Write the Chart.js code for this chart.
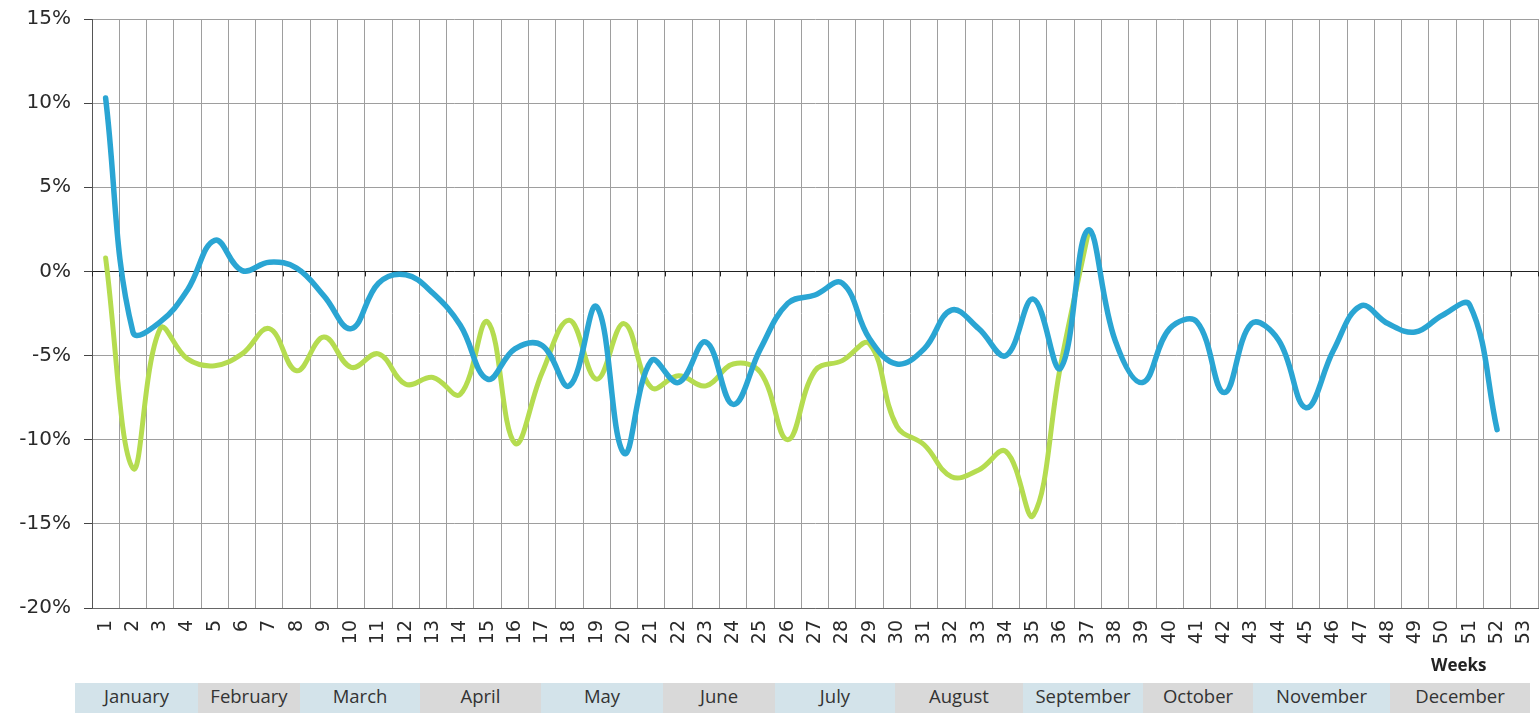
<!DOCTYPE html>
<html>
<head>
<meta charset="utf-8">
<title>Weekly change</title>
<script src="https://cdn.jsdelivr.net/npm/chart.js@4.4.1/dist/chart.umd.min.js"></script>
<style>
  html, body { margin: 0; padding: 0; background: #fff; }
  #wrap { position: relative; width: 1540px; height: 713px; overflow: hidden; }
  #chartBox { position: absolute; left: 0; top: 0; width: 1540px; height: 713px; }
  #weeksLabel {
    position: absolute; left: 1431px; top: 653px;
    font: bold 17px "Open Sans", sans-serif; color: #222;
  }
  #months {
    position: absolute; left: 75px; top: 683px; height: 30px;
    display: flex;
  }
  #months div {
    height: 30px; line-height: 33px; text-align: center;
    font: 18.5px "Open Sans", sans-serif; color: #333;
  }
</style>
</head>
<body>
<div id="wrap">
  <div id="chartBox"><canvas id="trendCanvas"></canvas></div>
  <div id="weeksLabel">Weeks</div>
  <div id="months"></div>
</div>
<script>
/* data */
const weeks = ['1','2','3','4','5','6','7','8','9','10','11','12','13','14','15','16','17','18',
  '19','20','21','22','23','24','25','26','27','28','29','30','31','32','33','34','35','36',
  '37','38','39','40','41','42','43','44','45','46','47','48','49','50','51','52','53'];

const blueVals = [10.3, -3.6, -3.0, -1.1, 1.85, 0.05, 0.55, 0.2, -1.45, -3.4,
  -0.7, -0.2, -1.3, -3.2, -6.4, -4.6, -4.4, -6.8, -2.1, -10.8,
  -5.3, -6.6, -4.2, -7.9, -4.6, -1.9, -1.4, -0.7, -4.0, -5.5,
  -4.6, -2.3, -3.4, -5.0, -1.65, -5.75, 2.45, -4.1, -6.6, -3.4,
  -3.0, -7.2, -3.1, -4.1, -8.1, -4.7, -2.05, -3.1, -3.6, -2.6,
  -2.0, -9.4];

const greenVals = [0.8, -11.7, -3.4, -5.2, -5.6, -4.9, -3.4, -5.9, -3.9, -5.7,
  -4.9, -6.7, -6.3, -7.3, -3.0, -10.2, -6.0, -2.9, -6.4, -3.1,
  -6.9, -6.2, -6.8, -5.5, -6.0, -10.0, -5.9, -5.3, -4.3, -9.2,
  -10.3, -12.2, -11.8, -10.7, -14.5, -5.6, 2.2];

const yTicks = [-20, -15, -10, -5, 0, 5, 10, 15];

const months = ['January','February','March','April','May','June',
  'July','August','September','October','November','December'];

/* layout of the month strip (px) */
const monthWidths = [123, 102, 120, 121, 122, 112, 120, 128, 120, 110, 137, 140];

const monthsEl = document.getElementById('months');
months.forEach((m, i) => {
  const d = document.createElement('div');
  d.textContent = m;
  d.style.width = monthWidths[i] + 'px';
  d.style.background = i % 2 === 0 ? '#d3e3ea' : '#d9d9d9';
  monthsEl.appendChild(d);
});

/* small tick marks hanging under the 0% line */
const zeroTicks = {
  id: 'zeroTicks',
  beforeDatasetsDraw(chart) {
    const x = chart.scales.x, y = chart.scales.y;
    const y0 = y.getPixelForValue(0);
    const step = (x.right - x.left) / weeks.length;
    const ctx = chart.ctx;
    ctx.save();
    ctx.strokeStyle = '#222';
    ctx.lineWidth = 1;
    ctx.beginPath();
    for (let i = 0; i <= weeks.length; i++) {
      const px = Math.round(x.left + i * step) + 0.5;
      ctx.moveTo(px, y0);
      ctx.lineTo(px, y0 + 5);
    }
    ctx.stroke();
    ctx.restore();
  }
};

const ctx = document.getElementById('trendCanvas').getContext('2d');
new Chart(ctx, {
  type: 'line',
  data: {
    labels: weeks,
    datasets: [
      {
        data: blueVals,
        borderColor: '#2aa5d3',
        borderWidth: 5.5,
        tension: 0.4,
        pointRadius: 0,
        borderCapStyle: 'round',
        borderJoinStyle: 'round',
        fill: false
      },
      {
        data: greenVals,
        borderColor: '#b5dc50',
        borderWidth: 5,
        tension: 0.4,
        pointRadius: 0,
        borderCapStyle: 'round',
        borderJoinStyle: 'round',
        fill: false
      }
    ]
  },
  options: {
    responsive: true,
    maintainAspectRatio: false,
    animation: false,
    layout: { padding: { top: 19, right: 2, left: 0, bottom: 0 } },
    plugins: { legend: { display: false }, tooltip: { enabled: false } },
    scales: {
      x: {
        offset: true,
        grid: { offset: true, color: '#9e9e9e', lineWidth: 1, drawTicks: false },
        border: { display: true, color: '#666', width: 1 },
        ticks: {
          autoSkip: false, minRotation: 90, maxRotation: 90, padding: 12,
          color: '#2a2a2a', font: { family: 'DejaVu Sans', size: 19 }
        },
        afterFit: (s) => { s.height = 105; s.paddingLeft = 0; s.paddingRight = 0; }
      },
      y: {
        min: -20, max: 15,
        afterBuildTicks: (s) => { s.ticks = yTicks.map(v => ({ value: v })); },
        grid: {
          color: (c) => c.tick && c.tick.value === 0 ? '#222' : '#9e9e9e',
          tickColor: '#444', tickLength: 8, lineWidth: 1
        },
        border: { display: true, color: '#555', width: 1 },
        ticks: {
          padding: 13, color: '#2a2a2a',
          font: { family: 'DejaVu Sans', size: 20 },
          callback: (v) => v + '%'
        },
        afterFit: (s) => { s.width = 92; s.paddingTop = 0; s.paddingBottom = 0; }
      }
    }
  },
  plugins: [zeroTicks]
});
</script>
</body>
</html>
